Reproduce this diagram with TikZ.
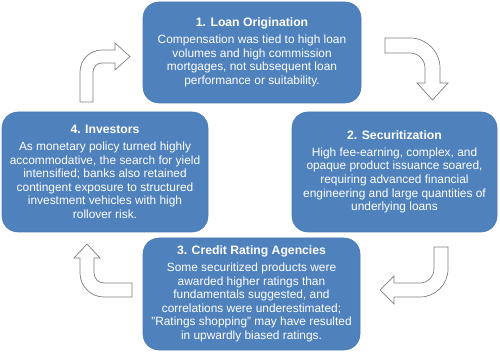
\documentclass[tikz,border=0pt]{standalone}
\usepackage{fontspec}
\setmainfont{Liberation Sans}
\definecolor{boxblue}{HTML}{4F81BD}
\definecolor{boxedge}{HTML}{4A7AB5}
\definecolor{arrowgrey}{HTML}{7F7F7F}
\begin{document}
\begin{tikzpicture}[x=1pt,y=-1pt,
  box/.style={fill=boxblue, draw=boxedge, line width=0.6pt, rounded corners=16pt,
    text=white, align=center, inner sep=0pt,
    font=\fontsize{11.9}{13.6}\selectfont},
  bent/.style={fill=white, draw=arrowgrey, line width=0.7pt, line join=miter}]
\useasboundingbox (0,0) rectangle (500,352);
\newcommand{\ttl}[1]{{\fontsize{12.2}{13.6}\selectfont\bfseries #1}}
\node[box, minimum width=218pt, minimum height=101pt] (b1) at (252,52.5)
  {\ttl{1. Loan Origination}\\[3pt]
   Compensation was tied to high loan\\ volumes and high commission\\
   mortgages, not subsequent loan\\ performance or suitability.};
\node[box, minimum width=205pt, minimum height=120pt] (b2) at (394.5,172)
  {\ttl{2. Securitization}\\[3pt]
   High fee-earning, complex, and\\ opaque product issuance soared,\\
   requiring advanced financial\\ engineering and large quantities of\\
   underlying loans};
\node[box, minimum width=217pt, minimum height=112pt] (b3) at (251.5,294)
  {\ttl{3. Credit Rating Agencies}\\[3pt]
   Some securitized products were\\ awarded higher ratings than\\
   fundamentals suggested, and\\ correlations were underestimated;\\
   "Ratings shopping" may have resulted\\ in upwardly biased ratings.};
\node[box, minimum width=206pt, minimum height=120pt] (b4) at (105,172)
  {\ttl{4. Investors}\\[3pt]
   As monetary policy turned highly\\ accommodative, the search for yield\\
   intensified; banks also retained\\ contingent exposure to structured\\
   investment vehicles with high\\ rollover risk.};
% bent block arrows
\draw[bent] (80,102) -- (80,72) .. controls (80,59.85) and (89.85,50) .. (102,50)
  -- (115,50) -- (115,43) -- (130,56.5) -- (115,70) -- (115,63) -- (102,63)
  .. controls (97.03,63) and (93,67.03) .. (93,72) -- (93,102) -- cycle;
\draw[bent] (385,38) -- (410,38) .. controls (426.57,38) and (440,51.43) .. (440,68)
  -- (440,83) -- (448,83) -- (432.5,100) -- (417,83) -- (425,83) -- (425,68)
  .. controls (425,59.72) and (418.28,53) .. (410,53) -- (385,53) -- cycle;
\draw[bent] (434,247) -- (448,247) -- (448,269) .. controls (448,284.46) and (435.46,297) .. (420,297)
  -- (394,297) -- (394,304) -- (380,290) -- (394,276) -- (394,283) -- (420,283)
  .. controls (427.73,283) and (434,276.73) .. (434,269) -- cycle;
\draw[bent] (132,283) -- (132,297) -- (104,297) .. controls (90.75,297) and (80,286.25) .. (80,273)
  -- (80,258) -- (74,258) -- (87,244) -- (100,258) -- (94,258) -- (94,273)
  .. controls (94,278.52) and (98.48,283) .. (104,283) -- cycle;
\end{tikzpicture}
\end{document}
